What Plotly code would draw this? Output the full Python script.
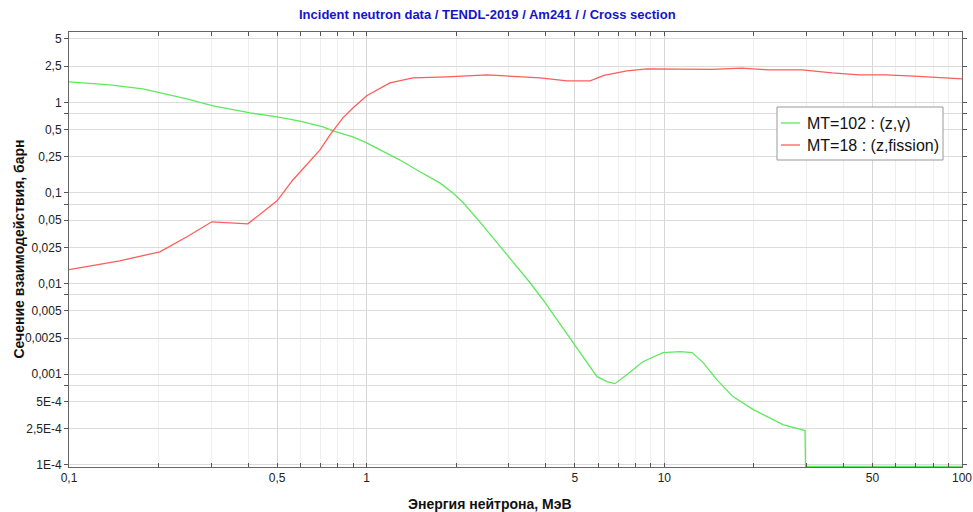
import plotly.graph_objects as go

# Am241 capture cross section MT=102 (energy in MeV, cross section in barn)
energy_capture = [0.1, 0.137, 0.177, 0.249, 0.305, 0.406, 0.5, 0.597, 0.713, 0.771, 0.899,
                  1.0, 1.11, 1.29, 1.51, 1.76, 1.95, 2.11, 2.40, 2.81, 3.10, 3.54, 3.91,
                  4.35, 4.93, 5.94, 6.42, 6.82, 7.48, 8.47, 9.89, 11.3, 12.4, 13.5, 15.0,
                  17.0, 19.9, 22.6, 25.0, 29.7, 29.8, 50.0, 100.0]
xs_capture = [1.68, 1.56, 1.41, 1.09, 0.912, 0.764, 0.69, 0.62, 0.536, 0.484, 0.416,
              0.357, 0.299, 0.232, 0.171, 0.129, 0.100, 0.0778, 0.048, 0.0255, 0.0170,
              0.0102, 0.00662, 0.00399, 0.00222, 0.000938, 0.000826, 0.000785, 0.000986,
              0.00137, 0.00173, 0.00177, 0.00173, 0.00134, 0.000869, 0.000565, 0.000406,
              0.000331, 0.000277, 0.000238, 9.6e-5, 9.6e-5, 9.6e-5]

# Am241 fission cross section MT=18
energy_fission = [0.1, 0.148, 0.202, 0.249, 0.302, 0.399, 0.5, 0.565, 0.697, 0.753, 0.832,
                  0.899, 1.0, 1.197, 1.43, 1.86, 2.54, 3.03, 3.82, 4.71, 5.63, 6.27, 7.49,
                  8.74, 9.97, 14.4, 18.2, 22.3, 29.0, 36.6, 45.1, 55.5, 71.6, 100.0]
xs_fission = [0.0142, 0.0178, 0.0224, 0.0328, 0.048, 0.0456, 0.0818, 0.139, 0.299, 0.437,
              0.673, 0.867, 1.18, 1.64, 1.86, 1.91, 2.01, 1.95, 1.86, 1.72, 1.72, 1.98,
              2.22, 2.34, 2.34, 2.31, 2.39, 2.28, 2.28, 2.11, 2.01, 2.01, 1.93, 1.81]

x_tick_vals = [0.1, 0.5, 1, 5, 10, 50, 100]
x_tick_text = ["0,1", "0,5", "1", "5", "10", "50", "100"]
x_minor_vals = [0.2, 0.3, 0.4, 0.6, 0.7, 0.8, 0.9, 2, 3, 4, 6, 7, 8, 9,
                20, 30, 40, 60, 70, 80, 90]

y_tick_vals = [5, 2.5, 1, 0.75, 0.5, 0.25, 0.1, 0.075, 0.05, 0.025, 0.01, 0.0075,
               0.005, 0.0025, 0.001, 0.00075, 5e-4, 2.5e-4, 1e-4]
y_tick_text = ["5", "2,5", "1", "", "0,5", "0,25", "0,1", "", "0,05", "0,025", "0,01", "",
               "0,005", "0,0025", "0,001", "", "5E-4", "2,5E-4", "1E-4"]

series_names = ["MT=102 : (z,γ)", "MT=18 : (z,fission)"]
series_colors = ["#5ee85e", "#ff5c5c"]

FONT = "Liberation Sans, Arial, sans-serif"

# plot area in pixels: left 69, right 962, top 32, bottom 467
PL, PR, PT, PB = 69, 962, 32, 467


def px_x(p):
    return (p - PL) / (PR - PL)


def px_y(p):
    return (PB - p) / (PB - PT)


fig = go.Figure()
for xs, ys, name, color in [(energy_capture, xs_capture, series_names[0], series_colors[0]),
                            (energy_fission, xs_fission, series_names[1], series_colors[1])]:
    fig.add_trace(go.Scatter(x=xs, y=ys, mode="lines", name=name,
                             line=dict(color=color, width=1.3)))

# boxed legend: short line sample followed by the series name
shapes = [dict(type="rect", xref="paper", yref="paper",
               x0=px_x(777), x1=px_x(943), y0=px_y(160), y1=px_y(107),
               line=dict(color="#999", width=1), fillcolor="white", layer="above")]
legend_notes = []
for i, (name, color) in enumerate(zip(series_names, series_colors)):
    row_y = 123 + 22 * i
    shapes.append(dict(type="line", xref="paper", yref="paper",
                       x0=px_x(781), x1=px_x(800), y0=px_y(row_y), y1=px_y(row_y),
                       line=dict(color=color, width=1.3), layer="above"))
    legend_notes.append(dict(text=name, xref="paper", yref="paper",
                             x=px_x(805), y=px_y(row_y), xanchor="left", yanchor="middle",
                             showarrow=False,
                             font=dict(family=FONT, size=16, color="#111")))

fig.update_layout(
    width=973, height=512,
    margin=dict(l=PL, r=973 - PR, t=PT, b=512 - PB, autoexpand=False),
    paper_bgcolor="white", plot_bgcolor="white",
    font=dict(family=FONT, size=12, color="#222"),
    showlegend=False,
    shapes=shapes,
    annotations=[
        dict(text="<b>Incident neutron data / TENDL-2019 / Am241 / / Cross section</b>",
             xref="paper", yref="paper", x=px_x(487), y=1.0, yshift=18,
             xanchor="center", yanchor="middle", showarrow=False,
             font=dict(family=FONT, size=13, color="#1414c8")),
        dict(text="<b>Энергия нейтрона, МэВ</b>",
             xref="paper", yref="paper", x=px_x(490), y=0, yshift=-37,
             xanchor="center", yanchor="middle", showarrow=False,
             font=dict(family=FONT, size=14, color="#111")),
        dict(text="<b>Сечение взаимодействия, барн</b>", textangle=-90,
             xref="paper", yref="paper", x=0, xshift=-51, y=0.5,
             xanchor="center", yanchor="middle", showarrow=False,
             font=dict(family=FONT, size=14, color="#111")),
    ] + legend_notes,
)

fig.update_xaxes(
    type="log", range=[-1, 2], automargin=False,
    tickvals=x_tick_vals, ticktext=x_tick_text,
    ticks="inside", ticklen=4, tickcolor="#555",
    showgrid=True, gridcolor="#d6d6d6", gridwidth=1,
    showline=True, linecolor="#666", linewidth=1, mirror="allticks",
    tickfont=dict(family=FONT, size=12, color="#222"),
    minor=dict(tickvals=x_minor_vals, ticks="inside", ticklen=4, tickcolor="#555",
               showgrid=True, gridcolor="#efefef", gridwidth=1),
    zeroline=False,
)
fig.update_yaxes(
    type="log", range=[-4.025, 0.776], automargin=False,
    tickvals=y_tick_vals, ticktext=y_tick_text,
    ticks="outside", ticklen=4, tickcolor="#555",
    showgrid=True, gridcolor="#dcdcdc", gridwidth=1,
    showline=True, linecolor="#666", linewidth=1, mirror="allticks",
    tickfont=dict(family=FONT, size=12, color="#222"),
    zeroline=False,
)

fig.write_html("out.html")
